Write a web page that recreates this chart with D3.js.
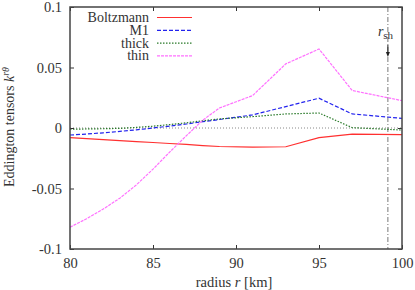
<!DOCTYPE html>
<html>
<head>
<meta charset="utf-8">
<script src="https://cdn.jsdelivr.net/npm/d3@7"></script>
</head>
<body style="margin:0; background:#fff">
<div id="chart"></div>
<script>
var width = 415;
var height = 290;
var FONT = "Liberation Serif";

// radius grid [km]
var radius = [80, 81, 82, 83, 84, 85, 86, 87, 88, 89, 91, 93, 95, 97, 100];

var boltzmann = [-0.0080, -0.0088, -0.0096, -0.0104, -0.0112, -0.0120, -0.0128, -0.0136, -0.0145, -0.0153, -0.0158, -0.0155, -0.0080, -0.0050, -0.0055];
var m1        = [-0.0058, -0.0050, -0.0040, -0.0028, -0.0015, 0.0000, 0.0016, 0.0033, 0.0052, 0.0070, 0.0108, 0.0177, 0.0246, 0.0116, 0.0080];
var thick     = [-0.0010, -0.0008, -0.0006, -0.0003, 0.0005, 0.0015, 0.0028, 0.0043, 0.0060, 0.0075, 0.0094, 0.0116, 0.0124, 0.0003, -0.0017];
var thin      = [-0.0820, -0.0750, -0.0670, -0.0580, -0.0470, -0.0340, -0.0200, -0.0065, 0.0065, 0.0165, 0.0268, 0.0530, 0.0653, 0.0310, 0.0226];

var seriesNames = ["Boltzmann", "M1", "thick", "thin"];
var seriesColors = ["#ff3030", "#2222ee", "#2a7a2a", "#ff70ff"];
var seriesDash = ["none", "4,2", "1.5,1.5", "3,1"];
var seriesData = [boltzmann, m1, thick, thin];

var xTicks = [80, 85, 90, 95, 100];
var yTicks = [-0.1, -0.05, 0, 0.05, 0.1];
var rShock = 99.15;

var margin = {left: 70, right: 13, top: 7, bottom: 41};

var x = d3.scaleLinear().domain([80, 100]).range([margin.left, width - margin.right]);
var y = d3.scaleLinear().domain([-0.1, 0.1]).range([height - margin.bottom, margin.top]);

var svg = d3.select("#chart").append("svg")
    .attr("width", width)
    .attr("height", height)
    .attr("font-family", FONT);

svg.append("defs").append("clipPath").attr("id", "clip")
    .append("rect")
    .attr("x", x(80)).attr("y", y(0.1))
    .attr("width", x(100) - x(80)).attr("height", y(-0.1) - y(0.1));

// zero line
svg.append("line")
    .attr("x1", x(80)).attr("x2", x(100))
    .attr("y1", y(0)).attr("y2", y(0))
    .attr("stroke", "#888").attr("stroke-width", 1)
    .attr("stroke-dasharray", "1,2");

// shock radius
svg.append("line")
    .attr("x1", x(rShock)).attr("x2", x(rShock))
    .attr("y1", y(0.1)).attr("y2", y(-0.1))
    .attr("stroke", "#777").attr("stroke-width", 1)
    .attr("stroke-dasharray", "5,2,1,2");

var line = d3.line()
    .x(function(d, i) { return x(radius[i]); })
    .y(function(d) { return y(d); });

var plot = svg.append("g").attr("clip-path", "url(#clip)");
seriesData.forEach(function(s, k) {
    plot.append("path")
        .attr("d", line(s))
        .attr("fill", "none")
        .attr("stroke", seriesColors[k])
        .attr("stroke-width", 1.2)
        .attr("stroke-dasharray", seriesDash[k]);
});

// axes (ticks inward, mirrored)
var tickLen = 4;
svg.append("g")
    .attr("transform", "translate(0," + y(-0.1) + ")")
    .call(d3.axisBottom(x).tickValues(xTicks).tickSize(-tickLen).tickPadding(9).tickFormat(d3.format("d")));
svg.append("g")
    .attr("transform", "translate(0," + y(0.1) + ")")
    .call(d3.axisTop(x).tickValues(xTicks).tickSize(-tickLen).tickFormat(""));
svg.append("g")
    .attr("transform", "translate(" + x(80) + ",0)")
    .call(d3.axisLeft(y).tickValues(yTicks).tickSize(-tickLen).tickPadding(8)
        .tickFormat(function(d) { return d === 0 ? "0" : String(+d.toFixed(2)); }));
svg.append("g")
    .attr("transform", "translate(" + x(100) + ",0)")
    .call(d3.axisRight(y).tickValues(yTicks).tickSize(-tickLen).tickFormat(""));

svg.selectAll(".domain").remove();
svg.selectAll("g").attr("font-family", FONT).attr("font-size", 14.5);
svg.selectAll(".tick line").attr("stroke", "#333");
svg.selectAll(".tick text").attr("fill", "#333");

// frame
svg.append("rect")
    .attr("x", x(80)).attr("y", y(0.1))
    .attr("width", x(100) - x(80)).attr("height", y(-0.1) - y(0.1))
    .attr("fill", "none").attr("stroke", "#444").attr("stroke-width", 1.5);

// legend
var legend = svg.append("g").attr("class", "legend");
seriesNames.forEach(function(name, k) {
    var ly = 17.5 + k * 12.8;
    legend.append("text")
        .attr("x", 149).attr("y", ly + 4.5)
        .attr("text-anchor", "end")
        .attr("font-family", FONT)
        .attr("font-size", 14)
        .attr("fill", "#333")
        .text(name);
    legend.append("line")
        .attr("x1", 157).attr("x2", 192)
        .attr("y1", ly).attr("y2", ly)
        .attr("stroke", seriesColors[k])
        .attr("stroke-width", 1.2)
        .attr("stroke-dasharray", seriesDash[k]);
});

// r_sh label and arrow
var rsh = svg.append("text")
    .attr("x", x(rShock) - 10).attr("y", 36)
    .attr("font-family", FONT)
    .attr("font-size", 14)
    .attr("fill", "#333");
rsh.append("tspan").attr("font-style", "italic").text("r");
rsh.append("tspan").attr("dy", 3).attr("font-size", 11).text("sh");
svg.append("line")
    .attr("x1", x(rShock)).attr("x2", x(rShock))
    .attr("y1", 45).attr("y2", 54)
    .attr("stroke", "#222").attr("stroke-width", 1);
svg.append("path")
    .attr("d", "M" + (x(rShock) - 2) + ",52 L" + (x(rShock) + 2) + ",52 L" + x(rShock) + ",57 Z")
    .attr("fill", "#222");

// axis labels
var xl = svg.append("text")
    .attr("x", 234).attr("y", 287)
    .attr("text-anchor", "middle")
    .attr("font-family", FONT)
    .attr("font-size", 14.5)
    .attr("fill", "#333");
xl.append("tspan").text("radius ");
xl.append("tspan").attr("font-style", "italic").text("r");
xl.append("tspan").text(" [km]");

var yl = svg.append("text")
    .attr("transform", "translate(13.5,127) rotate(-90)")
    .attr("text-anchor", "middle")
    .attr("font-family", FONT)
    .attr("font-size", 14)
    .attr("fill", "#333");
yl.append("tspan").text("Eddington tensors ");
yl.append("tspan").attr("font-style", "italic").text("k");
yl.append("tspan").attr("dy", -5).attr("font-size", 10).attr("font-style", "italic").text("rθ");
</script>
</body>
</html>
